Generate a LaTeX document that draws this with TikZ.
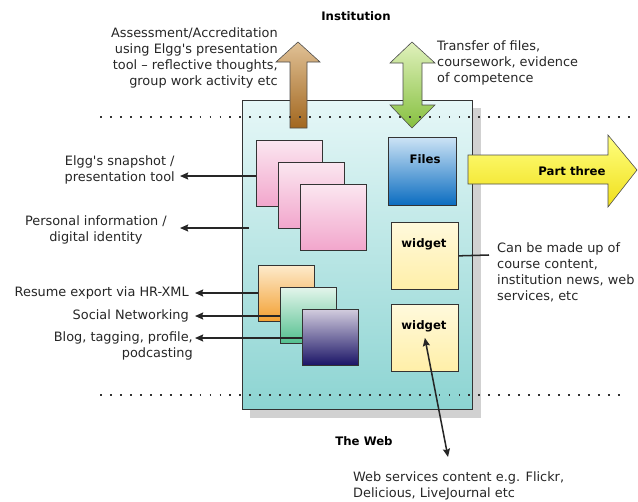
\documentclass[tikz,border=0pt]{standalone}
\usepackage{fontspec}
\setmainfont{DejaVu Sans}
\usepackage{xcolor}
\usetikzlibrary{arrows.meta}

\newcommand{\pxu}{0.03cm}
\definecolor{paneltop}{HTML}{E6F7F7}
\definecolor{panelbot}{HTML}{8CD4D2}
\definecolor{pinktop}{HTML}{FBE6F0}
\definecolor{pinkbot}{HTML}{F2A6CC}
\definecolor{orangetop}{HTML}{FDEACB}
\definecolor{orangebot}{HTML}{F3A032}
\definecolor{greentop}{HTML}{E3F5EB}
\definecolor{greenbot}{HTML}{52BF8E}
\definecolor{purpletop}{HTML}{D2CCDE}
\definecolor{purplebot}{HTML}{1A1466}
\definecolor{filestop}{HTML}{CCE3F5}
\definecolor{filesbot}{HTML}{0A6CC0}
\definecolor{widgettop}{HTML}{FFF9DC}
\definecolor{widgetbot}{HTML}{FFEFA8}
\definecolor{browntop}{HTML}{E0C196}
\definecolor{brownbot}{HTML}{A2671F}
\definecolor{limetop}{HTML}{E0F1BC}
\definecolor{limebot}{HTML}{86C040}
\definecolor{yellowtop}{HTML}{FFFF80}
\definecolor{yellowbot}{HTML}{F0DF1A}

\begin{document}
\begin{tikzpicture}[x=0.03cm, y=-0.03cm,
	lbl/.style={font=\fontsize{11}{13.6}\selectfont, inner sep=0pt, text=black!85},
	head/.style={font=\fontsize{10}{12}\selectfont\bfseries, inner sep=0pt},
	card/.style={draw=black!80, line width=0.6pt, anchor=north west, inner sep=0pt, minimum size=#1*\pxu},
	arr/.style={-{Stealth[length=7pt,width=6pt,inset=1pt]}, line width=1.3pt, black!85},
	dots/.style={line width=1.6pt, dash pattern=on 1.6pt off 6.9pt, black!80}]
	\useasboundingbox (0,0) rectangle (638,502);

	% the page with its shadow
	\node[card=1, minimum width=230*\pxu, minimum height=309*\pxu, top color=paneltop, bottom color=panelbot] (panel) at (242,100) {};
	\fill[black!18] ([shift={(0,8)}]panel.north east) rectangle ([shift={(8,8)}]panel.south east);
	\fill[black!18] ([shift={(8,0)}]panel.south west) rectangle ([shift={(8,8)}]panel.south east);

	\node[head] (inst) at (356,16) {Institution};
	\node[head] (web) at (364,441) {The Web};

	% big arrows
	\path[draw=black!70, line width=0.5pt, top color=browntop, bottom color=brownbot]
		(290,128) -- (290,62) -- (276,62) -- (298,42) -- (320,62) -- (307,62) -- (307,128) -- cycle;
	\path[draw=black!70, line width=0.5pt, top color=limetop, bottom color=limebot]
		(412,42) -- (435,63) -- (422,63) -- (422,105) -- (435,105) -- (412,128) -- (390,105) -- (403,105) -- (403,63) -- (390,63) -- cycle;
	\path[draw=black!70, line width=0.5pt, top color=yellowtop, bottom color=yellowbot]
		(468,155) -- (608,155) -- (608,135) -- (637,170) -- (608,207) -- (608,184) -- (468,184) -- cycle;
	\node[head] (three) at (572,171) {Part three};

	\node[lbl, align=right, anchor=east] (assess) at (278,58) {Assessment/Accreditation\\using Elgg\textquotesingle s presentation\\tool -- reflective thoughts,\\group work activity etc};
	\node[lbl, align=left, anchor=west] (transfer) at (437,63) {Transfer of files,\\coursework, evidence\\of competence};

	% snapshots
	\node[card=66, top color=pinktop, bottom color=pinkbot] (p1) at (256,140) {};
	\node[card=66, top color=pinktop, bottom color=pinkbot] (p2) at (278,162) {};
	\node[card=66, top color=pinktop, bottom color=pinkbot] (p3) at (300,184) {};

	% profile pieces
	\node[card=56, top color=orangetop, bottom color=orangebot] (rx) at (258,265) {};
	\node[card=56, top color=greentop, bottom color=greenbot] (sn) at (280,287) {};
	\node[card=56, top color=purpletop, bottom color=purplebot] (bl) at (302,309) {};

	% right column
	\node[card=68, top color=filestop, bottom color=filesbot] (files) at (388,137) {};
	\node[head] (fileslbl) at (425,159) {Files};
	\node[card=67, top color=widgettop, bottom color=widgetbot] (w1) at (391,222) {};
	\node[head] (w1lbl) at (424,244) {widget};
	\node[card=67, top color=widgettop, bottom color=widgetbot] (w2) at (391,304) {};
	\node[head] (w2lbl) at (424,326) {widget};

	% labels on the left
	\node[lbl, align=center, anchor=east] (snap) at (175,170) {Elgg\textquotesingle s snapshot /\\presentation tool};
	\coordinate (snaptip) at (180,176);
	\draw[arr] (p1.west |- snaptip) -- (snaptip);

	\node[lbl, align=center, anchor=east] (ident) at (167,230) {Personal information /\\digital identity};
	\coordinate (identfrom) at (249,228);
	\coordinate (identtip) at (180,228);
	\draw[arr] (identfrom) -- (identtip);

	\node[lbl, anchor=east] (resume) at (189,293) {Resume export via HR-XML};
	\coordinate (resumetip) at (195,293);
	\draw[arr] (rx.west |- resumetip) -- (resumetip);

	\node[lbl, anchor=east] (social) at (189,316) {Social Networking};
	\coordinate (socialtip) at (195,316);
	\draw[arr] (sn.west |- socialtip) -- (socialtip);

	\node[lbl, align=right, anchor=east] (blog) at (193,346) {Blog, tagging, profile,\\podcasting};
	\coordinate (blogtip) at (195,338);
	\draw[arr] (bl.west |- blogtip) -- (blogtip);

	% labels on the right
	\node[lbl, align=left, anchor=west] (made) at (497,272) {Can be made up of\\course content,\\institution news, web\\services, etc};
	\coordinate (madeend) at (489,255);
	\draw[black!85, line width=1.3pt] (w1.east) -- (madeend);

	\node[lbl, align=left, anchor=west] (services) at (353,486) {Web services content e.g. Flickr,\\Delicious, LiveJournal etc};
	\coordinate (webend) at (448,457);
	\draw[arr, {Stealth[length=7pt,width=6pt,inset=1pt]}-{Stealth[length=7pt,width=6pt,inset=1pt]}] (w2.center) -- (webend);

	% borders between institution, page and web
	\draw[dots] (100,117) -- (632,117);
	\draw[dots] (100,395) -- (626,395);
\end{tikzpicture}
\end{document}
